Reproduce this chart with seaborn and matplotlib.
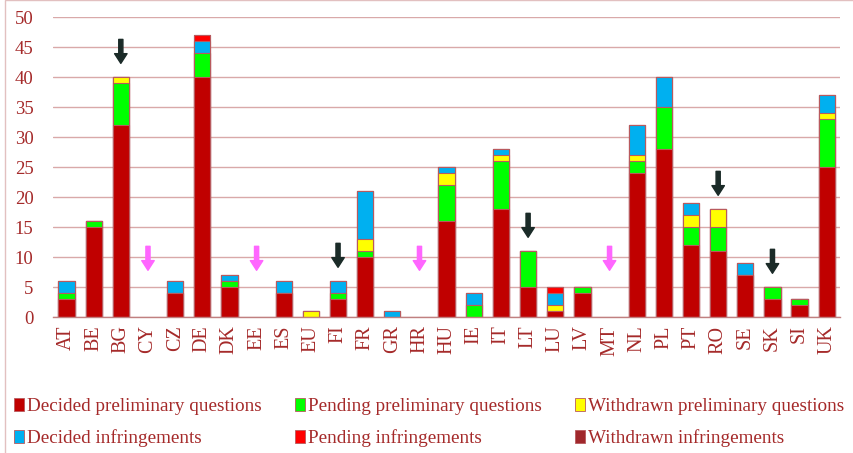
import matplotlib
matplotlib.use("Agg")
import matplotlib.pyplot as plt
import seaborn as sns
import pandas as pd
import numpy as np
from matplotlib.patches import Patch, Rectangle

countries = ["AT", "BE", "BG", "CY", "CZ", "DE", "DK", "EE", "ES", "EU", "FI", "FR", "GR", "HR",
             "HU", "IE", "IT", "LT", "LU", "LV", "MT", "NL", "PL", "PT", "RO", "SE", "SK", "SI", "UK"]
decided_prelim = [3, 15, 32, 0, 4, 40, 5, 0, 4, 0, 3, 10, 0, 0, 16, 0, 18, 5, 1, 4, 0, 24, 28, 12, 11, 7, 3, 2, 25]
pending_prelim = [1, 1, 7, 0, 0, 4, 1, 0, 0, 0, 1, 1, 0, 0, 6, 2, 8, 6, 0, 1, 0, 2, 7, 3, 4, 0, 2, 1, 8]
withdrawn_prelim = [0, 0, 1, 0, 0, 0, 0, 0, 0, 1, 0, 2, 0, 0, 2, 0, 1, 0, 1, 0, 0, 1, 0, 2, 3, 0, 0, 0, 1]
decided_infr = [2, 0, 0, 0, 2, 2, 1, 0, 2, 0, 2, 8, 1, 0, 1, 2, 1, 0, 2, 0, 0, 5, 5, 2, 0, 2, 0, 0, 3]
pending_infr = [0, 0, 0, 0, 0, 1, 0, 0, 0, 0, 0, 0, 0, 0, 0, 0, 0, 0, 1, 0, 0, 0, 0, 0, 0, 0, 0, 0, 0]
withdrawn_infr = [0] * 29

series_names = ["Decided preliminary questions", "Pending preliminary questions",
                "Withdrawn preliminary questions", "Decided infringements",
                "Pending infringements", "Withdrawn infringements"]
series_colors = ["#C00000", "#00FF00", "#FFFF00", "#00B0F0", "#FF0000", "#A0282C"]

dark_arrows = ["BG", "FI", "LT", "RO", "SK"]
pink_arrows = ["CY", "EE", "HR", "MT"]

TXT = "#A52A2A"
GRID = "#D9A9A9"

sns.set_theme(style="white")
plt.rcParams["font.family"] = ["Liberation Serif", "DejaVu Serif"]

series = [decided_prelim, pending_prelim, withdrawn_prelim, decided_infr, pending_infr, withdrawn_infr]
cum = np.cumsum(np.array(series, dtype=float), axis=0)

fig = plt.figure(figsize=(8.54, 4.53), dpi=100)
ax = fig.add_axes([0.062, 0.300, 0.922, 0.662])

# draw from top of stack downward so lower segments overlay
for i in range(len(series) - 1, -1, -1):
    df = pd.DataFrame({"country": countries, "value": cum[i]})
    sns.barplot(data=df, x="country", y="value", order=countries, color=series_colors[i],
                saturation=1, width=0.6, edgecolor="#B85A5E", linewidth=0.8, ax=ax,
                errorbar=None)
for p in ax.patches:
    if p.get_height() == 0:
        p.set_linewidth(0)

totals = cum[-1]
for c in dark_arrows:
    i = countries.index(c)
    ax.annotate("", xy=(i, totals[i] + 2.3), xytext=(i, totals[i] + 6.3),
                arrowprops=dict(arrowstyle="simple,head_width=0.9,head_length=0.7,tail_width=0.3",
                                color="#1B2B28", mutation_scale=10, shrinkA=0, shrinkB=0))
for c in pink_arrows:
    i = countries.index(c)
    ax.annotate("", xy=(i, 7.8), xytext=(i, 11.8),
                arrowprops=dict(arrowstyle="simple,head_width=0.9,head_length=0.7,tail_width=0.3",
                                color="#FF66FF", mutation_scale=10, shrinkA=0, shrinkB=0))

ax.set_xlim(-0.5, len(countries) - 0.5)
ax.set_ylim(0, 50)
ax.set_yticks(range(0, 51, 5))
ax.yaxis.grid(True, color=GRID, linewidth=1.0)
ax.set_axisbelow(True)
for s in ["top", "right", "left"]:
    ax.spines[s].set_visible(False)
ax.spines["bottom"].set_color("#C08080")
ax.spines["bottom"].set_linewidth(1.0)
ax.set_xlabel("")
ax.set_ylabel("")
ax.tick_params(axis="y", length=0, pad=14, labelsize=13.5, labelcolor=TXT)
ax.tick_params(axis="x", length=0, pad=6, labelsize=14.5, labelcolor=TXT)
for lab in ax.get_xticklabels():
    lab.set_rotation(90)

order = [0, 3, 1, 4, 2, 5]
handles = [Patch(facecolor=series_colors[k], edgecolor="#B85A5E", linewidth=0.6) for k in order]
labels = [series_names[k] for k in order]
leg = fig.legend(handles, labels, loc="lower left", bbox_to_anchor=(0.008, -0.004), ncol=3,
                 frameon=False, fontsize=13.8, handlelength=0.5, handleheight=0.7,
                 handletextpad=0.15, columnspacing=1.75, labelspacing=0.72, labelcolor=TXT,
                 borderaxespad=0)

fig.patches.append(Rectangle((0.006, -0.1), 1.2, 1.099, transform=fig.transFigure,
                             fill=False, edgecolor="#E2C0C0", linewidth=1.0))

fig.savefig("out.png", dpi=100)
